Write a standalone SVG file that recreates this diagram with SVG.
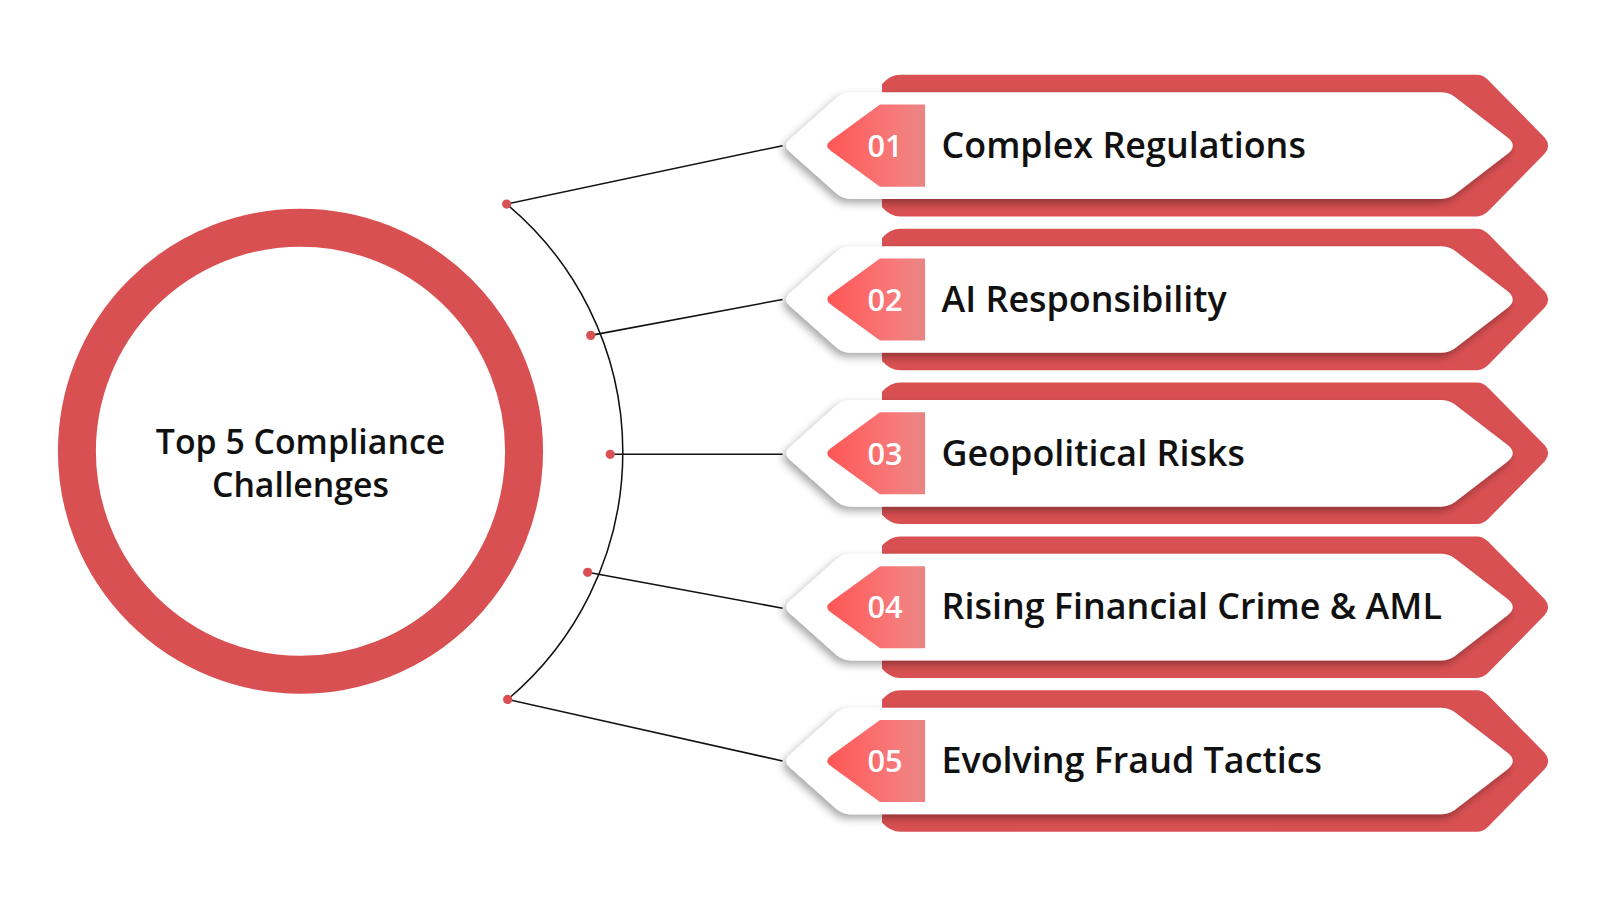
<svg xmlns="http://www.w3.org/2000/svg" width="1600" height="900" viewBox="0 0 1600 900">
<defs>
<linearGradient id="bg" x1="0" x2="1" y1="0" y2="0"><stop offset="0" stop-color="#ff5656"/><stop offset="0.7" stop-color="#f77a7a"/><stop offset="1" stop-color="#e98585"/></linearGradient>
<filter id="sh" x="-10%" y="-30%" width="120%" height="160%"><feDropShadow dx="-3" dy="4" stdDeviation="4" flood-color="#000" flood-opacity="0.35"/></filter>
<g id="item">
<path d="M878,-69 H1440 Q1446,-69 1451,-64 L1506,-8 Q1513,0 1506,8 L1451,64 Q1446,69 1440,69 H878 Q868,69 860,60 L860,-60 Q868,-69 878,-69Z" fill="#d95052"/>
<path d="M830,-52 H1405 Q1412,-52 1418,-48 L1470,-8 Q1480,0 1470,8 L1418,48 Q1412,52 1405,52 H830 Q822,52 816,47 L770,6 Q763,0 770,-6 L816,-47 Q822,-52 830,-52Z" fill="#fff" filter="url(#sh)"/>
<path d="M858,-40 H902 V40 H858 L810,5 Q803,0 810,-5Z" fill="url(#bg)"/>
</g>
</defs>
<style>
.num{font-family:"Open Sans",sans-serif;font-size:30px;font-weight:600;fill:#fff;text-anchor:middle}
.lbl{font-family:"Open Sans",sans-serif;font-size:35px;font-weight:600;fill:#111}
.c{stroke:#111;stroke-width:1.5;fill:none}
.d{fill:#d95052}
</style>
<g transform="scale(1.0256)">
<g id="hub">
<circle cx="293" cy="440" r="218" fill="#fff" stroke="#d95052" stroke-width="37"/>
<text x="293" y="443" font-family="Open Sans, sans-serif" font-size="33" font-weight="600" fill="#111" text-anchor="middle">Top 5 Compliance</text>
<text x="293" y="485" font-family="Open Sans, sans-serif" font-size="33" font-weight="600" fill="#111" text-anchor="middle">Challenges</text>
</g>
<g id="connectors">
<path class="c" d="M494,199 A315,315 0 0 1 495,682"/>
<path class="c" d="M494,199 L763,142 M576,327 L763,292 M595,443 L763,443 M573,558 L763,593 M495,682 L763,742"/>
<circle class="d" cx="494" cy="199" r="4.5"/><circle class="d" cx="576" cy="327" r="4.5"/><circle class="d" cx="595" cy="443" r="4.5"/><circle class="d" cx="573" cy="558" r="4.5"/><circle class="d" cx="495" cy="682" r="4.5"/>
</g>
<g id="n1" transform="translate(0,142)"><use href="#item"/><text class="num" x="863" y="11">01</text><text class="lbl" x="918" y="12">Complex Regulations</text></g>
<g id="n2" transform="translate(0,292)"><use href="#item"/><text class="num" x="863" y="11">02</text><text class="lbl" x="918" y="12">AI Responsibility</text></g>
<g id="n3" transform="translate(0,442)"><use href="#item"/><text class="num" x="863" y="11">03</text><text class="lbl" x="918" y="12">Geopolitical Risks</text></g>
<g id="n4" transform="translate(0,592)"><use href="#item"/><text class="num" x="863" y="11">04</text><text class="lbl" x="918" y="12">Rising Financial Crime &amp; AML</text></g>
<g id="n5" transform="translate(0,742)"><use href="#item"/><text class="num" x="863" y="11">05</text><text class="lbl" x="918" y="12">Evolving Fraud Tactics</text></g>
</g>
</svg>
